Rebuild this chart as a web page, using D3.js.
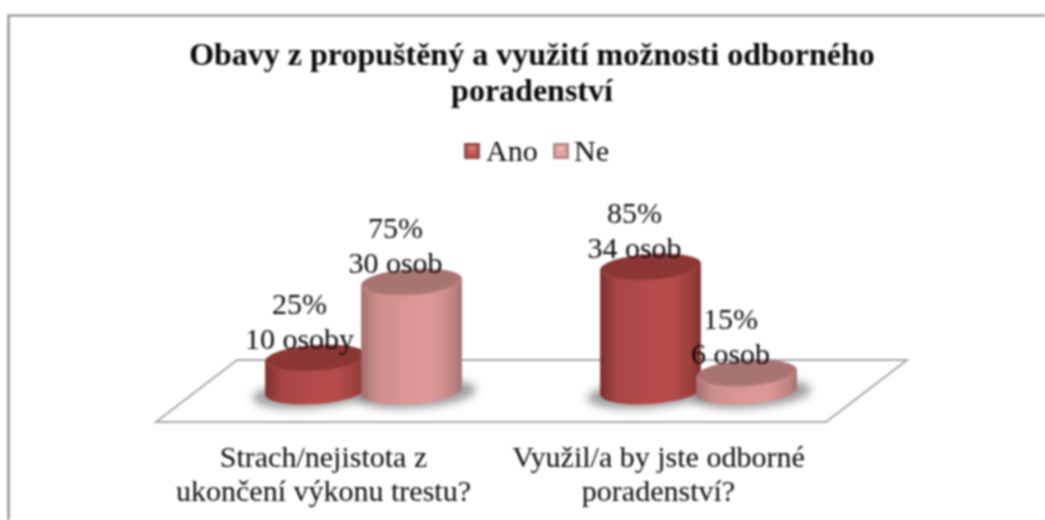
<!DOCTYPE html>
<html><head><meta charset="utf-8">
<script src="https://cdn.jsdelivr.net/npm/d3@7"></script>
<style>
html,body{margin:0;padding:0;background:#fff;}
svg{display:block;filter:blur(0.8px);}
text{font-family:"Liberation Serif",serif;fill:#0a0a0a;}
</style></head><body>
<svg id="c" width="1045" height="520"></svg>
<script>
const titleLines = ["Obavy z propuštěný a využití možnosti odborného", "poradenství"];
const categories = ["Strach/nejistota z ukončení výkonu trestu?", "Využil/a by jste odborné poradenství?"];
const categoryLines = [["Strach/nejistota z", "ukončení výkonu trestu?"], ["Využil/a by jste odborné", "poradenství?"]];
const seriesNames = ["Ano", "Ne"];
const percentAno = [25, 85];
const percentNe = [75, 15];
const peopleAno = ["10 osoby", "34 osob"];
const peopleNe = ["30 osob", "6 osob"];
const palette = {
  Ano: {mid:"#b44c4a", edge:"#7c2e2c", top:"#8a3634", rim:"#b04e4b", key:"#c05654"},
  Ne:  {mid:"#dc9896", edge:"#a06f6d", top:"#a87472", rim:"#d69492", key:"#e2a4a2"}
};

const svg = d3.select("#c");
const defs = svg.append("defs");

const FRONT = [156, 826], BACK_SHIFT = 81, DEPTH = 62, FRONT_Y = 422;
const x0 = d3.scaleBand().domain(categories).range(FRONT);
const BAR_SHIFT = 40;
const y = d3.scaleLinear().domain([0, 100]).range([396, 244]);
const BASE_Y = 391, TILT = -4;

// frame: only the top and left edges are in view
svg.append("path").attr("d","M8.5,520 V15.5 H1045").attr("fill","none").attr("stroke","#858585").attr("stroke-width",2.2);

// title
svg.append("g").selectAll("text").data(titleLines).join("text")
  .attr("x",532).attr("y",(d,i)=>65+i*36).attr("text-anchor","middle")
  .attr("font-size",32).attr("font-weight","bold").text(d=>d);

// legend
[["Ano",464,486],["Ne",553,574]].forEach(([s,kx,tx])=>{
  const p=palette[s], g=svg.append("g");
  g.append("rect").attr("x",kx).attr("y",143).attr("width",16).attr("height",16).attr("fill",p.edge).attr("opacity",.85);
  g.append("rect").attr("x",kx+2.5).attr("y",145.5).attr("width",11).attr("height",11).attr("fill",p.key);
  g.append("path").attr("d",`M${kx+3},146 h10 l-5,6 z`).attr("fill","#fff").attr("opacity",.22);
  g.append("text").attr("x",tx).attr("y",161).attr("font-size",30).text(s);
});

// floor
const f0=FRONT[0], f1=FRONT[1];
svg.append("path")
  .attr("d",`M${f0},${FRONT_Y} L${f0+BACK_SHIFT},${FRONT_Y-DEPTH} H${f1+BACK_SHIFT} L${f1},${FRONT_Y} Z`)
  .attr("fill","#fff").attr("stroke","#a8a8a8").attr("stroke-width",2);

// blur filters
const fl=defs.append("filter").attr("id","sh").attr("x","-30%").attr("y","-80%").attr("width","160%").attr("height","260%");
fl.append("feGaussianBlur").attr("stdDeviation",4);
const fr=defs.append("filter").attr("id","rim").attr("x","-10%").attr("y","-20%").attr("width","120%").attr("height","140%");
fr.append("feGaussianBlur").attr("stdDeviation",1);

// gradients
seriesNames.forEach(s=>{
  const p=palette[s];
  const g=defs.append("linearGradient").attr("id","side"+s).attr("x1",0).attr("x2",1).attr("y1",0).attr("y2",0);
  [[0,p.edge],[.16,d3.interpolateRgb(p.edge,p.mid)(.75)],[.5,p.mid],[.72,p.mid],[.92,d3.interpolateRgb(p.edge,p.mid)(.5)],[1,p.edge]]
    .forEach(([o,c])=>g.append("stop").attr("offset",o).attr("stop-color",c));
});

const rows = [];
categories.forEach((c,i)=>{
  rows.push({cat:c, s:"Ano", v:percentAno[i], people:peopleAno[i]});
  rows.push({cat:c, s:"Ne", v:percentNe[i], people:peopleNe[i]});
});

const RX=50.5, RY=13;
const rad=TILT*Math.PI/180, dx=RX*Math.cos(rad), dy=RX*Math.sin(rad);

const bars = rows.map(d=>{
  const c=x0(d.cat)+BAR_SHIFT+x0.bandwidth()/2;
  const x1=d3.scaleBand().domain(seriesNames).range([c-96, c+96]);
  return {...d, cx:x1(d.s)+x1.bandwidth()/2, ty:y(d.v)};
});

// shadows
svg.append("g").selectAll("ellipse").data(bars).join("ellipse")
  .attr("cx",d=>d.cx+(d.s==="Ano"?-3:4)).attr("cy",BASE_Y+3).attr("rx",RX+10).attr("ry",RY+1)
  .attr("fill","#6a6a6a").attr("opacity",.65).attr("filter","url(#sh)")
  .attr("transform",d=>`rotate(${TILT} ${d.cx} ${BASE_Y})`);

// cylinders
const bar = svg.append("g").selectAll("g").data(bars).join("g");
bar.append("path")
  .attr("d",d=>`M${d.cx-dx},${d.ty-dy} L${d.cx-dx},${BASE_Y-dy} A${RX},${RY} ${TILT} 0 0 ${d.cx+dx},${BASE_Y+dy} L${d.cx+dx},${d.ty+dy} Z`)
  .attr("fill",d=>`url(#side${d.s})`);
bar.append("ellipse")
  .attr("cx",d=>d.cx).attr("cy",d=>d.ty).attr("rx",RX).attr("ry",RY)
  .attr("fill",d=>palette[d.s].top).attr("transform",d=>`rotate(${TILT} ${d.cx} ${d.ty})`);
bar.append("path")
  .attr("d",d=>`M${d.cx-dx+3},${d.ty-dy+1.5} A${RX-3},${RY-1} ${TILT} 0 0 ${d.cx+dx-3},${d.ty+dy+1.5}`)
  .attr("fill","none").attr("stroke",d=>palette[d.s].rim).attr("stroke-width",1.6).attr("filter","url(#rim)")
  .attr("opacity",.85);

// data labels
const lab = svg.append("g").selectAll("g").data(bars).join("g").attr("font-size",30);
lab.append("text").attr("x",d=>d.cx-16).attr("y",d=>d.ty-44).attr("text-anchor","middle").text(d=>d.v+"%");
lab.append("text").attr("x",d=>d.cx-16).attr("y",d=>d.ty-9).attr("text-anchor","middle").text(d=>d.people);

// category labels
categories.forEach((c,i)=>{
  svg.append("g").selectAll("text").data(categoryLines[i]).join("text")
    .attr("x",x0(c)+x0.bandwidth()/2).attr("y",(d,k)=>467+k*34).attr("text-anchor","middle")
    .attr("font-size",30).text(d=>d);
});
</script></body></html>
